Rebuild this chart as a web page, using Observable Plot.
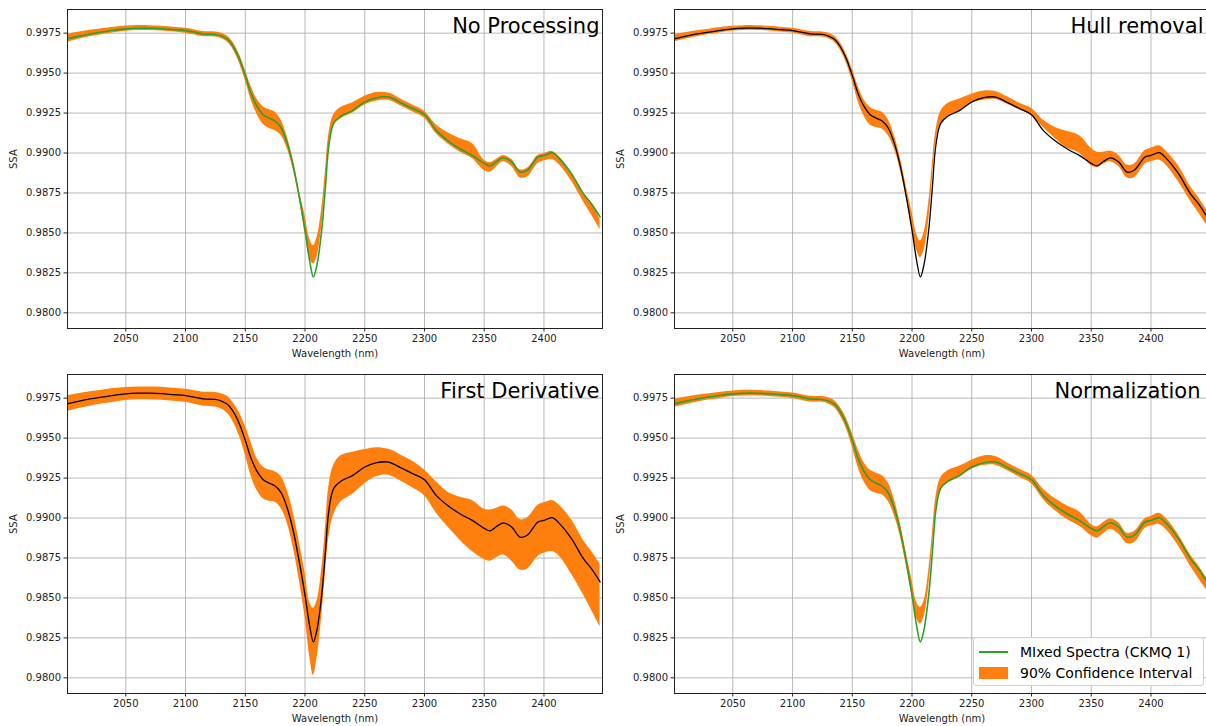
<!DOCTYPE html>
<html>
<head>
<meta charset="utf-8">
<script src="https://cdn.jsdelivr.net/npm/d3@7"></script>
<script src="https://cdn.jsdelivr.net/npm/@observablehq/plot@0.6"></script>
<style>
  html, body { margin: 0; padding: 0; background: #fff; }
  #wrap { position: relative; width: 1206px; height: 726px; overflow: hidden; background: #fff; font-family: "DejaVu Sans", sans-serif; }
  .panel { position: absolute; }
  #legend { position: absolute; left: 973px; top: 637px; width: 231px; height: 49px; box-sizing: border-box;
    border: 1px solid #d0d0d0; border-radius: 3px; background: rgba(255,255,255,0.85); font-size: 14px; color: #000; }
  #legend .row { position: absolute; left: 0; display: flex; align-items: center; white-space: nowrap; }
</style>
</head>
<body>
<div id="wrap"></div>
<script>
// ---- data ----
const wavelength = [2001,2010,2020,2030,2040,2050,2060,2070,2080,2090,2100,2108,2115,2125,2130,2135,2140,2145,2150,2155,2160,2165,2170,2175,2180,2185,2190,2195,2200,2204,2207,2210,2214,2217,2220,2224,2230,2240,2250,2260,2270,2280,2290,2300,2310,2320,2330,2340,2350,2355,2360,2366,2373,2380,2386,2395,2400,2407,2413,2423,2433,2440,2447];
const meanSSA = [0.99715,0.99730,0.99745,0.99757,0.99768,0.99777,0.99781,0.99781,0.99778,0.99772,0.99766,0.99755,0.99745,0.99742,0.99732,0.99712,0.99665,0.99590,0.99486,0.99370,0.99290,0.99240,0.99218,0.99200,0.99158,0.99065,0.98925,0.98735,0.98517,0.98320,0.98225,0.98300,0.98520,0.98780,0.99050,0.99185,0.99230,0.99267,0.99319,0.99346,0.99350,0.99315,0.99278,0.99240,0.99140,0.99075,0.99025,0.98985,0.98935,0.98920,0.98945,0.98970,0.98944,0.98881,0.98892,0.98975,0.98985,0.99002,0.98965,0.98871,0.98746,0.98680,0.98600];

const noProcLo = [0.99692,0.99710,0.99727,0.99740,0.99752,0.99762,0.99766,0.99766,0.99763,0.99757,0.99750,0.99738,0.99728,0.99726,0.99716,0.99694,0.99645,0.99565,0.99455,0.99330,0.99240,0.99180,0.99155,0.99140,0.99110,0.99030,0.98900,0.98720,0.98500,0.98340,0.98305,0.98350,0.98540,0.98790,0.99040,0.99175,0.99215,0.99250,0.99300,0.99325,0.99330,0.99295,0.99258,0.99218,0.99120,0.99055,0.99005,0.98965,0.98890,0.98880,0.98910,0.98945,0.98915,0.98845,0.98850,0.98935,0.98950,0.98960,0.98925,0.98825,0.98695,0.98610,0.98520];
const noProcHi = [0.99742,0.99755,0.99768,0.99778,0.99787,0.99795,0.99798,0.99797,0.99793,0.99787,0.99781,0.99770,0.99760,0.99758,0.99750,0.99732,0.99690,0.99620,0.99520,0.99415,0.99335,0.99290,0.99270,0.99255,0.99205,0.99105,0.98960,0.98770,0.98610,0.98460,0.98420,0.98470,0.98650,0.98880,0.99120,0.99240,0.99285,0.99315,0.99355,0.99378,0.99375,0.99338,0.99300,0.99262,0.99175,0.99125,0.99090,0.99060,0.98955,0.98940,0.98960,0.98985,0.98960,0.98895,0.98905,0.98985,0.98995,0.99010,0.98975,0.98875,0.98750,0.98685,0.98585];

const hullLo = [0.99695,0.99712,0.99728,0.99741,0.99753,0.99763,0.99767,0.99767,0.99764,0.99758,0.99751,0.99739,0.99728,0.99726,0.99716,0.99695,0.99645,0.99565,0.99450,0.99320,0.99230,0.99175,0.99160,0.99150,0.99110,0.99030,0.98900,0.98730,0.98520,0.98390,0.98345,0.98390,0.98580,0.98830,0.99060,0.99180,0.99225,0.99262,0.99312,0.99330,0.99335,0.99305,0.99270,0.99235,0.99160,0.99090,0.99030,0.99000,0.98920,0.98910,0.98930,0.98945,0.98915,0.98845,0.98845,0.98930,0.98945,0.98955,0.98920,0.98820,0.98700,0.98625,0.98545];
const hullHi = [0.99740,0.99752,0.99765,0.99775,0.99785,0.99793,0.99797,0.99796,0.99793,0.99787,0.99781,0.99770,0.99760,0.99757,0.99750,0.99732,0.99690,0.99620,0.99525,0.99415,0.99330,0.99285,0.99268,0.99255,0.99210,0.99115,0.98980,0.98800,0.98630,0.98490,0.98450,0.98500,0.98690,0.98930,0.99140,0.99260,0.99310,0.99338,0.99368,0.99388,0.99385,0.99350,0.99312,0.99280,0.99205,0.99160,0.99135,0.99110,0.99030,0.99005,0.99005,0.99012,0.98985,0.98925,0.98930,0.99015,0.99030,0.99045,0.99010,0.98920,0.98790,0.98720,0.98640];

const derivLo = [0.99665,0.99683,0.99700,0.99713,0.99725,0.99735,0.99740,0.99740,0.99737,0.99731,0.99724,0.99712,0.99700,0.99695,0.99682,0.99655,0.99600,0.99515,0.99395,0.99260,0.99170,0.99120,0.99105,0.99098,0.99060,0.98970,0.98820,0.98620,0.98380,0.98130,0.98015,0.98120,0.98380,0.98640,0.98880,0.99020,0.99100,0.99150,0.99215,0.99260,0.99268,0.99232,0.99190,0.99140,0.99030,0.98940,0.98860,0.98790,0.98740,0.98730,0.98750,0.98768,0.98730,0.98675,0.98680,0.98760,0.98780,0.98790,0.98760,0.98650,0.98520,0.98420,0.98320];
const derivHi = [0.99765,0.99778,0.99790,0.99800,0.99810,0.99817,0.99820,0.99820,0.99818,0.99812,0.99806,0.99796,0.99787,0.99786,0.99778,0.99762,0.99720,0.99660,0.99575,0.99470,0.99370,0.99320,0.99300,0.99290,0.99260,0.99175,0.99040,0.98860,0.98660,0.98470,0.98435,0.98480,0.98680,0.98930,0.99200,0.99330,0.99390,0.99412,0.99428,0.99440,0.99430,0.99395,0.99355,0.99300,0.99225,0.99160,0.99130,0.99110,0.99055,0.99050,0.99060,0.99075,0.99050,0.98990,0.99000,0.99080,0.99095,0.99110,0.99080,0.98990,0.98860,0.98790,0.98710];

const normLo = [0.99692,0.99708,0.99725,0.99738,0.99750,0.99760,0.99764,0.99764,0.99761,0.99755,0.99748,0.99736,0.99726,0.99724,0.99714,0.99692,0.99640,0.99560,0.99445,0.99315,0.99225,0.99172,0.99155,0.99145,0.99105,0.99020,0.98890,0.98710,0.98510,0.98370,0.98335,0.98380,0.98570,0.98810,0.99050,0.99175,0.99218,0.99255,0.99305,0.99328,0.99330,0.99295,0.99255,0.99215,0.99115,0.99045,0.98990,0.98950,0.98890,0.98875,0.98900,0.98930,0.98900,0.98840,0.98845,0.98935,0.98950,0.98960,0.98925,0.98825,0.98700,0.98620,0.98545];
const normHi = [0.99742,0.99755,0.99768,0.99778,0.99787,0.99795,0.99799,0.99798,0.99795,0.99789,0.99782,0.99771,0.99762,0.99760,0.99752,0.99735,0.99692,0.99625,0.99530,0.99425,0.99345,0.99300,0.99280,0.99265,0.99220,0.99120,0.98975,0.98790,0.98610,0.98470,0.98440,0.98480,0.98670,0.98900,0.99130,0.99250,0.99295,0.99325,0.99362,0.99388,0.99385,0.99345,0.99305,0.99268,0.99180,0.99120,0.99075,0.99040,0.98960,0.98945,0.98970,0.98995,0.98970,0.98905,0.98915,0.98995,0.99010,0.99030,0.98995,0.98895,0.98770,0.98700,0.98620];

const xTicks = [2050, 2100, 2150, 2200, 2250, 2300, 2350, 2400];
const yTicks = [0.9800, 0.9825, 0.9850, 0.9875, 0.9900, 0.9925, 0.9950, 0.9975];
const panelTitles = ["No Processing", "Hull removal", "First Derivative", "Normalization"];
const legendLabels = ["MIxed Spectra (CKMQ 1)", "90% Confidence Interval"];

// ---- layout / style ----
const GREEN = "#2ca02c", ORANGE = "#ff7f0e";
const panels = [
  {title: panelTitles[0], lo: noProcLo, hi: noProcHi, line: GREEN, lw: 1.6, left: 0,   top: 0,   ml: 67, tdx: -3},
  {title: panelTitles[1], lo: hullLo,   hi: hullHi,   line: "#000", lw: 1.3, left: 606, top: 0,   ml: 68, tdx: -6},
  {title: panelTitles[2], lo: derivLo,  hi: derivHi,  line: "#000", lw: 1.3, left: 0,   top: 365, ml: 67, tdx: -3},
  {title: panelTitles[3], lo: normLo,   hi: normHi,   line: GREEN, lw: 1.6, left: 606, top: 365, ml: 68, tdx: -9}
];

const wrap = document.getElementById("wrap");
const font = "DejaVu Sans";

for (const p of panels) {
  const rows = wavelength.map((w, i) => ({w, m: meanSSA[i], lo: p.lo[i], hi: p.hi[i]}));
  const chart = Plot.plot({
    width: 606, height: 360,
    marginLeft: p.ml, marginRight: 606 - p.ml - 535, marginTop: 9, marginBottom: 32,
    style: {fontFamily: font, fontSize: "10px", color: "#000", background: "transparent"},
    x: {domain: [2001.2, 2449], axis: null},
    y: {domain: [0.97902, 0.99898], axis: null},
    marks: [
      Plot.gridX(xTicks, {stroke: "#b0b0b0", strokeOpacity: 1, strokeWidth: 0.9}),
      Plot.gridY(yTicks, {stroke: "#b0b0b0", strokeOpacity: 1, strokeWidth: 0.9}),
      Plot.areaY(rows, {x: "w", y1: "lo", y2: "hi", fill: ORANGE, fillOpacity: 1, curve: "catmull-rom", clip: true}),
      Plot.lineY(rows, {x: "w", y: "m", stroke: p.line, strokeWidth: p.lw, curve: "catmull-rom", clip: true}),
      Plot.frame({stroke: "#222", strokeWidth: 1}),
      Plot.axisX(xTicks, {tickSize: 3.5, tickPadding: 3, fontSize: 10, label: null, tickFormat: d3.format("d"), fill: "#222", stroke: "#222"}),
      Plot.axisY(yTicks, {tickSize: 3.5, tickPadding: 3, fontSize: 10, label: null, tickFormat: d3.format(".4f"), fill: "#222", stroke: "#222"}),
      Plot.text(["Wavelength (nm)"], {frameAnchor: "bottom", dy: 28, fontSize: 10, fill: "#222"}),
      Plot.text(["SSA"], {frameAnchor: "left", dx: -54, rotate: -90, fontSize: 10, fill: "#222"}),
      Plot.text([p.title], {frameAnchor: "top-right", textAnchor: "end", lineAnchor: "top", dx: p.tdx, dy: 9, fontSize: 21, fill: "#000"})
    ]
  });
  chart.classList.add("panel");
  chart.style.left = p.left + "px";
  chart.style.top = p.top + "px";
  wrap.appendChild(chart);
}

// legend inside the bottom-right panel
const legend = document.createElement("div");
legend.id = "legend";
legend.innerHTML = `
  <div class="row" style="top:5px;height:18px;"><span style="display:inline-block;width:29px;height:2px;background:${GREEN};margin-left:5px;margin-right:12px;"></span>${legendLabels[0]}</div>
  <div class="row" style="top:26px;height:18px;"><span style="display:inline-block;width:29px;height:12px;background:${ORANGE};margin-left:5px;margin-right:12px;"></span>${legendLabels[1]}</div>`;
wrap.appendChild(legend);
</script>
</body>
</html>
